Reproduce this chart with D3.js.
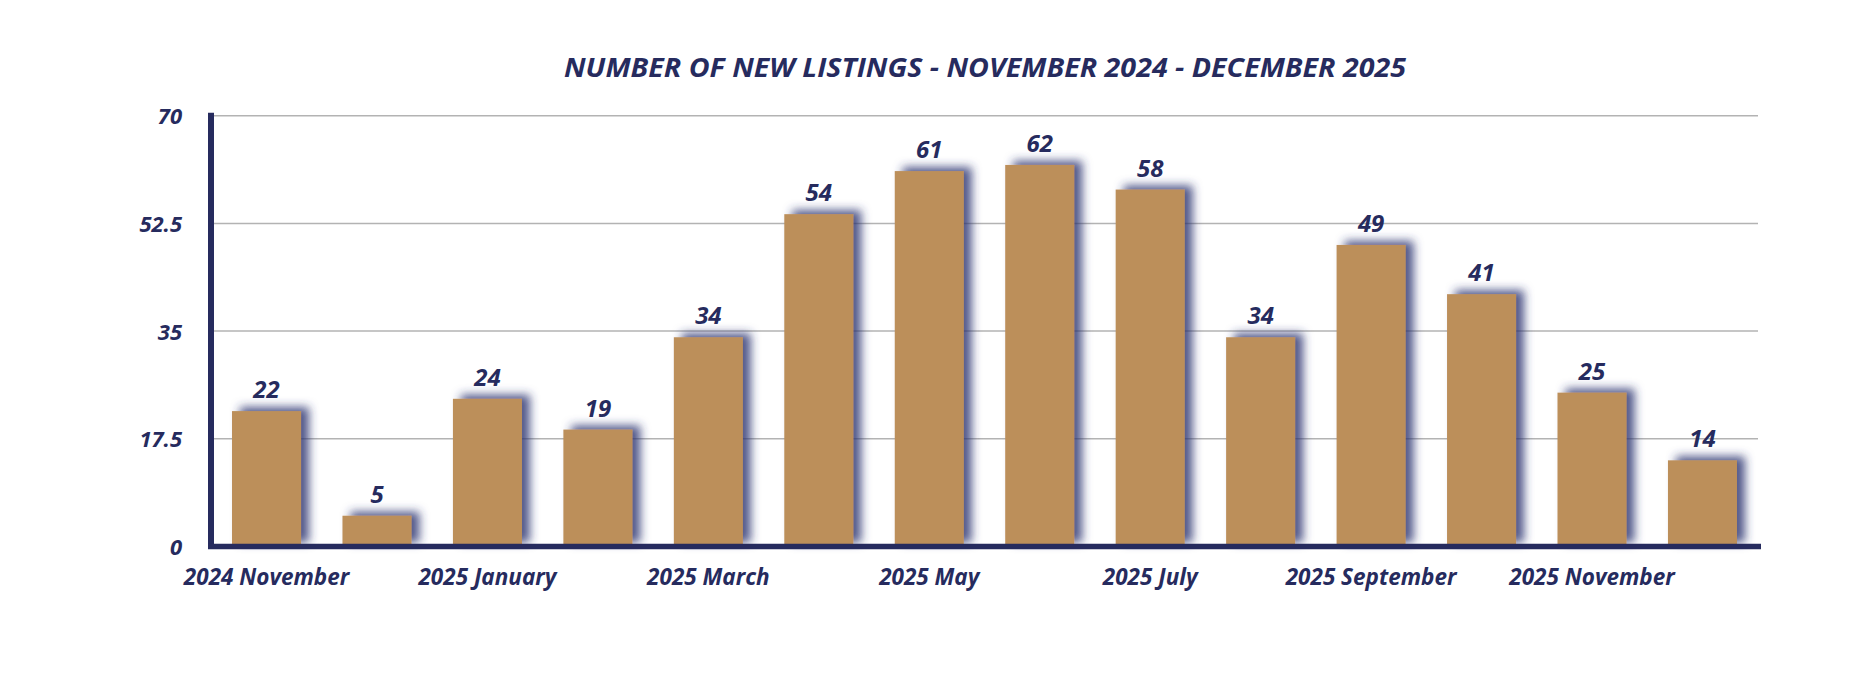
<!DOCTYPE html>
<html>
<head>
<meta charset="utf-8">
<script src="https://cdn.jsdelivr.net/npm/d3@7"></script>
<style>
  html, body { margin: 0; padding: 0; background: #ffffff; }
  svg { display: block; }
  text { font-family: "Open Sans", "Lato", sans-serif; font-style: italic; font-weight: 700; fill: #262b5e; }
</style>
</head>
<body>
<svg id="chart" width="1854" height="690"></svg>
<script>
const title = "NUMBER OF NEW LISTINGS - NOVEMBER 2024 - DECEMBER 2025";
const months = ["2024 November", "2024 December", "2025 January", "2025 February", "2025 March", "2025 April",
  "2025 May", "2025 June", "2025 July", "2025 August", "2025 September", "2025 October", "2025 November", "2025 December"];
const listings = [22, 5, 24, 19, 34, 54, 61, 62, 58, 34, 49, 41, 25, 14];
const yTicks = [0, 17.5, 35, 52.5, 70];
const xTickLabels = ["2024 November", "2025 January", "2025 March", "2025 May", "2025 July", "2025 September", "2025 November"];

const navy = "#262b5e";
const gold = "#bc8f5a";

const svg = d3.select("#chart");

const x = d3.scaleBand().domain(months).range([211.3, 1757.7]).paddingInner(0.375).paddingOuter(0.1875);
const y = d3.scaleLinear().domain([0, 70]).range([546.5, 115.7]);

const defs = svg.append("defs");
const f = defs.append("filter").attr("id", "shadow").attr("x", "-50%").attr("y", "-50%").attr("width", "200%").attr("height", "200%");
f.append("feDropShadow").attr("dx", 8).attr("dy", -4).attr("stdDeviation", 5)
  .attr("flood-color", "#2c3370").attr("flood-opacity", 0.82);

// title
svg.append("text").attr("x", 985).attr("y", 77).attr("text-anchor", "middle")
  .attr("textLength", 842).attr("lengthAdjust", "spacingAndGlyphs")
  .style("font-size", "27px").text(title);

// gridlines
svg.append("g").selectAll("line").data(yTicks.filter(d => d > 0)).join("line")
  .attr("x1", 214).attr("x2", 1758)
  .attr("y1", d => y(d)).attr("y2", d => y(d))
  .attr("stroke", "#b3b3b3").attr("stroke-width", 1.5);

// y axis labels
const yAxis = d3.axisLeft(y).tickValues(yTicks).tickSize(0).tickPadding(0).tickFormat(d => String(d));
const gy = svg.append("g").attr("transform", "translate(182,0)").call(yAxis);
gy.select(".domain").remove();
gy.selectAll("text").style("font-size", "22px").attr("fill", navy).attr("dy", "0.36em");

// bars
svg.append("g").selectAll("rect").data(listings).join("rect")
  .attr("x", (d, i) => x(months[i]))
  .attr("y", d => y(d))
  .attr("width", x.bandwidth())
  .attr("height", d => y(0) - y(d))
  .attr("fill", gold)
  .attr("filter", "url(#shadow)");

// value labels
svg.append("g").selectAll("text").data(listings).join("text")
  .attr("x", (d, i) => x(months[i]) + x.bandwidth() / 2)
  .attr("y", d => y(d) - 13)
  .attr("text-anchor", "middle")
  .style("font-size", "24px")
  .text(d => d);

// x axis labels
const xAxis = d3.axisBottom(x).tickValues(xTickLabels).tickSize(0).tickPadding(0);
const gx = svg.append("g").attr("transform", "translate(0,585)").call(xAxis);
gx.select(".domain").remove();
gx.selectAll("text").style("font-size", "22.5px").attr("fill", navy).attr("dy", "0");

// axis lines
svg.append("line").attr("x1", 211).attr("x2", 211).attr("y1", 112.7).attr("y2", 549)
  .attr("stroke", navy).attr("stroke-width", 6);
svg.append("line").attr("x1", 208).attr("x2", 1761).attr("y1", 546.5).attr("y2", 546.5)
  .attr("stroke", navy).attr("stroke-width", 5.5);
</script>
</body>
</html>
